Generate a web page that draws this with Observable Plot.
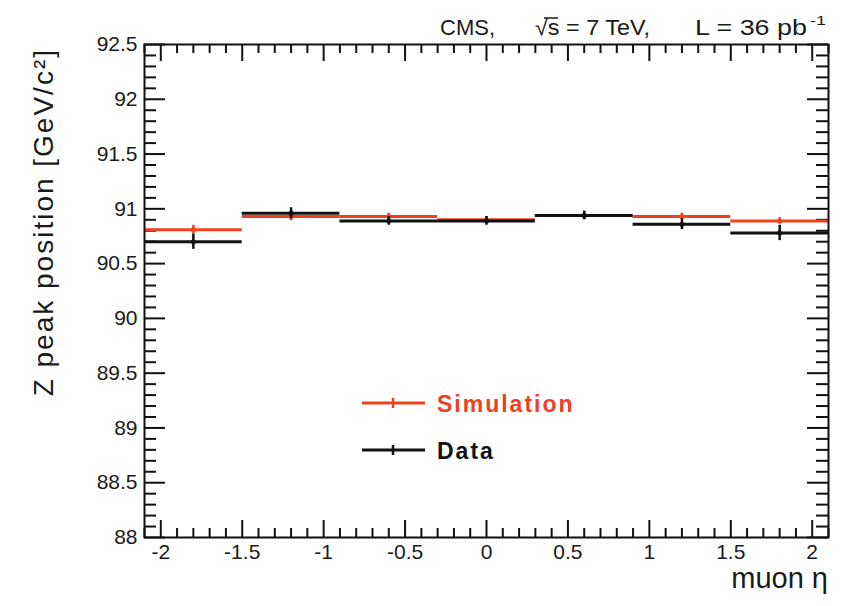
<!DOCTYPE html>
<html>
<head>
<meta charset="utf-8">
<script src="https://cdn.jsdelivr.net/npm/d3@7"></script>
<script src="https://cdn.jsdelivr.net/npm/@observablehq/plot@0.6"></script>
<style>
  html, body { margin: 0; padding: 0; background: #fff; }
  #chart { width: 847px; height: 606px; }
</style>
</head>
<body>
<div id="chart"></div>
<script>
// ---- data ----
const etaLow    = [-2.1, -1.5, -0.9, -0.3, 0.3, 0.9, 1.5];
const etaHigh   = [-1.5, -0.9, -0.3, 0.3, 0.9, 1.5, 2.1];
const etaCenter = [-1.8, -1.2, -0.6, 0.0, 0.6, 1.2, 1.8];
const simPeak   = [90.81, 90.93, 90.93, 90.90, 90.94, 90.93, 90.89];
const simErr    = [0.04, 0.04, 0.03, 0.03, 0.03, 0.03, 0.03];
const dataPeak  = [90.70, 90.96, 90.89, 90.89, 90.94, 90.86, 90.78];
const dataErr   = [0.07, 0.05, 0.04, 0.04, 0.04, 0.05, 0.07];
const xTickLabels = [-2, -1.5, -1, -0.5, 0, 0.5, 1, 1.5, 2];
const yTickLabels = [88, 88.5, 89, 89.5, 90, 90.5, 91, 91.5, 92, 92.5];
const seriesNames = ["Simulation", "Data"];
const seriesColors = ["#f0401f", "#111111"];
const xTitle = "muon η";
const yTitle = "Z peak position [GeV/c²]";

(function () {
// ---- layout ----
const W = 847, H = 606, mL = 144, mR = 19, mT = 44, mB = 69;
const innerW = W - mL - mR, innerH = H - mT - mB;
const xMajLen = 17, xMinLen = 9, yMajLen = 21, yMinLen = 12;

const mk = (peaks, errs) => peaks.map((p, i) => ({lo: etaLow[i], hi: etaHigh[i], c: etaCenter[i], peak: p, err: errs[i]}));
const sim = mk(simPeak, simErr);
const dat = mk(dataPeak, dataErr);

const xMinor = d3.range(-21, 22).map(d => d / 10).filter(v => !xTickLabels.some(t => Math.abs(t - v) < 1e-9));
const yMinor = d3.range(880, 926).map(d => d / 10).filter(v => !yTickLabels.some(t => Math.abs(t - v) < 1e-9));

const tickStyle = {stroke: "#111", strokeWidth: 2};

const chart = Plot.plot({
  width: W, height: H,
  marginLeft: mL, marginRight: mR, marginTop: mT, marginBottom: mB,
  x: {domain: [-2.1, 2.1]},
  y: {domain: [88, 92.5]},
  style: {fontFamily: "'Liberation Sans', Arial, sans-serif", color: "#1a1a1a", background: "white"},
  marks: [
    Plot.tickX(xMinor, {x: d => d, insetTop: innerH - xMinLen, ...tickStyle}),
    Plot.tickX(xMinor, {x: d => d, insetBottom: innerH - xMinLen, ...tickStyle}),
    Plot.tickX(xTickLabels, {x: d => d, insetTop: innerH - xMajLen, ...tickStyle}),
    Plot.tickX(xTickLabels, {x: d => d, insetBottom: innerH - xMajLen, ...tickStyle}),
    Plot.tickY(yMinor, {y: d => d, insetRight: innerW - yMinLen, ...tickStyle}),
    Plot.tickY(yMinor, {y: d => d, insetLeft: innerW - yMinLen, ...tickStyle}),
    Plot.tickY(yTickLabels, {y: d => d, insetRight: innerW - yMajLen, ...tickStyle}),
    Plot.tickY(yTickLabels, {y: d => d, insetLeft: innerW - yMajLen, ...tickStyle}),
    Plot.axisX({ticks: xTickLabels, tickSize: 0, tickPadding: 7, tickFormat: d => String(d), fontSize: 21, label: null}),
    Plot.axisY({ticks: yTickLabels, tickSize: 0, tickPadding: 7, tickFormat: d => String(d), fontSize: 21, label: null}),
    Plot.ruleY(sim, {y: "peak", x1: "lo", x2: "hi", stroke: seriesColors[0], strokeWidth: 3}),
    Plot.ruleX(sim, {x: "c", y1: d => d.peak - d.err, y2: d => d.peak + d.err, stroke: seriesColors[0], strokeWidth: 2.5}),
    Plot.dot(sim, {x: "c", y: "peak", r: 2.5, fill: seriesColors[0]}),
    Plot.ruleY(dat, {y: "peak", x1: "lo", x2: "hi", stroke: seriesColors[1], strokeWidth: 3}),
    Plot.ruleX(dat, {x: "c", y1: d => d.peak - d.err, y2: d => d.peak + d.err, stroke: seriesColors[1], strokeWidth: 2.5}),
    Plot.dot(dat, {x: "c", y: "peak", r: 2.5, fill: seriesColors[1]}),
    Plot.frame({stroke: "#111", strokeWidth: 2})
  ]
});
document.getElementById("chart").appendChild(chart);

const svg = d3.select(chart);
const ff = "'Liberation Sans', Arial, sans-serif";
const txt = (x, y, s, size, len) => {
  const t = svg.append("text").attr("x", x).attr("y", y).attr("text-anchor", "start")
    .attr("font-family", ff).attr("font-size", size).attr("fill", "#1a1a1a").text(s);
  if (len) t.attr("textLength", len).attr("lengthAdjust", "spacingAndGlyphs");
  return t;
};

// top caption
txt(440, 35, "CMS,", 22);
txt(535, 35, "√s = 7 TeV,", 22, 115);
svg.append("line").attr("x1", 544).attr("x2", 558).attr("y1", 18).attr("y2", 18)
  .attr("stroke", "#1a1a1a").attr("stroke-width", 1.5);
txt(695, 35, "L = 36 pb", 22, 112);
txt(810, 25, "-1", 13, 16);

// axis titles
svg.append("text")
  .attr("transform", "translate(53,48) rotate(-90)")
  .attr("text-anchor", "end")
  .attr("font-family", ff).attr("font-size", 28).attr("letter-spacing", 2)
  .attr("fill", "#1a1a1a")
  .text(yTitle);
svg.append("text")
  .attr("x", 828).attr("y", 588).attr("text-anchor", "end")
  .attr("font-family", ff).attr("font-size", 29).attr("fill", "#1a1a1a")
  .text(xTitle);

// legend
const legY = [403, 450];
seriesNames.forEach((name, i) => {
  const g = svg.append("g");
  g.append("line").attr("x1", 362).attr("x2", 425).attr("y1", legY[i]).attr("y2", legY[i])
    .attr("stroke", seriesColors[i]).attr("stroke-width", 3);
  g.append("line").attr("x1", 393).attr("x2", 393).attr("y1", legY[i] - 5).attr("y2", legY[i] + 5)
    .attr("stroke", seriesColors[i]).attr("stroke-width", 2.5);
  g.append("text").attr("x", 437).attr("y", legY[i] + 9).attr("text-anchor", "start")
    .attr("font-family", ff).attr("font-size", 23).attr("font-weight", "bold").attr("letter-spacing", 2)
    .attr("fill", seriesColors[i]).text(name);
});
})();
</script>
</body>
</html>
